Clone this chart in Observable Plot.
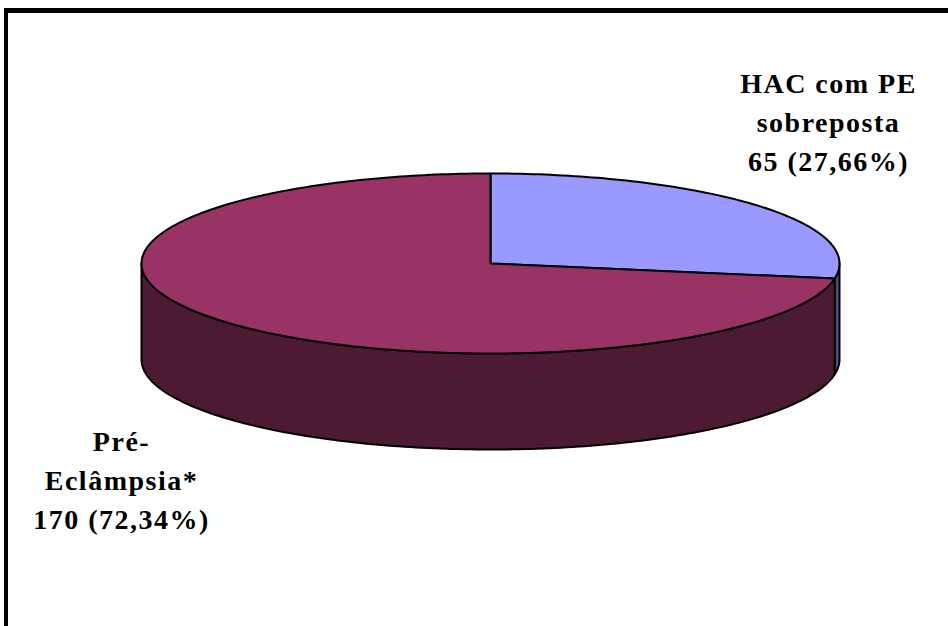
<!DOCTYPE html>
<html>
<head>
<meta charset="utf-8">
<script src="https://cdn.jsdelivr.net/npm/d3@7"></script>
<script src="https://cdn.jsdelivr.net/npm/@observablehq/plot@0.6"></script>
<style>
  html, body { margin: 0; padding: 0; background: #fff; }
  #wrap { position: relative; width: 948px; height: 626px; overflow: hidden; }
  #border { position: absolute; left: 4px; top: 8px; width: 960px; height: 614px;
            border-left: 4px solid #000; border-top: 5px solid #000; border-bottom: 2px solid #555; }
  #chart { position: absolute; left: 0; top: 0; }
  #chart svg text { letter-spacing: 1.5px; }
</style>
</head>
<body>
<div id="wrap"><div id="border"></div><div id="chart"></div></div>
<script>
// Data
const categories = ["HAC com PE\nsobreposta", "Pré-\nEclâmpsia*"];
const values = [65, 170];
const percentLabels = ["27,66%", "72,34%"];
const topColors = ["#9999FF", "#993366"];
const sideColors = ["#4D4D80", "#4C1A33"];

// Geometry (pixels)
const W = 948, H = 626;
const cx = 490, cy = 263, rx = 349, ry = 90, depth = 96;
const total = d3.sum(values);
const deg = Math.PI / 180;
const pt = (t, dy = 0) => ({x: cx + rx * Math.sin(t), y: cy - ry * Math.cos(t) + dy});
function arc(a0, a1, dy = 0) {
  const n = Math.max(2, Math.ceil((a1 - a0) / deg));
  return d3.range(n + 1).map(i => pt(a0 + (a1 - a0) * i / n, dy));
}

let acc = 0;
const slices = values.map((v, i) => {
  const a0 = acc / total * 2 * Math.PI;
  acc += v;
  const a1 = acc / total * 2 * Math.PI;
  return {i, a0, a1};
});

const marks = [];
// Side faces (visible front half only)
slices.forEach(s => {
  const s0 = Math.max(s.a0, Math.PI / 2), s1 = Math.min(s.a1, 3 * Math.PI / 2);
  if (s1 > s0) {
    const top = arc(s0, s1);
    const bot = arc(s0, s1, depth).reverse();
    const poly = [...top, ...bot, top[0]];
    marks.push(Plot.line(poly, {x: "x", y: "y", fill: sideColors[s.i], stroke: "#000", strokeWidth: 2, curve: "linear"}));
  }
});
// Top faces
slices.forEach(s => {
  const poly = [{x: cx, y: cy}, ...arc(s.a0, s.a1), {x: cx, y: cy}];
  marks.push(Plot.line(poly, {x: "x", y: "y", fill: topColors[s.i], stroke: "#000", strokeWidth: 2, curve: "linear"}));
});

// Labels
const labelData = [
  {x: 828, y: 119, text: `${categories[0]}\n${values[0]} (${percentLabels[0]})`},
  {x: 121, y: 477, text: `${categories[1]}\n${values[1]} (${percentLabels[1]})`}
];
marks.push(Plot.text(labelData, {
  x: "x", y: "y", text: "text", lineAnchor: "middle", lineHeight: 1.38,
  fontSize: 28, fontWeight: "bold", fontFamily: "'Liberation Serif', 'Times New Roman', serif",
  fill: "#000", textAnchor: "middle"
}));

const chart = Plot.plot({
  width: W, height: H,
  margin: 0,
  x: {domain: [0, W], range: [0, W], axis: null},
  y: {domain: [0, H], range: [0, H], axis: null},
  style: {background: "transparent", overflow: "visible"},
  marks
});
document.getElementById("chart").appendChild(chart);
</script>
</body>
</html>
